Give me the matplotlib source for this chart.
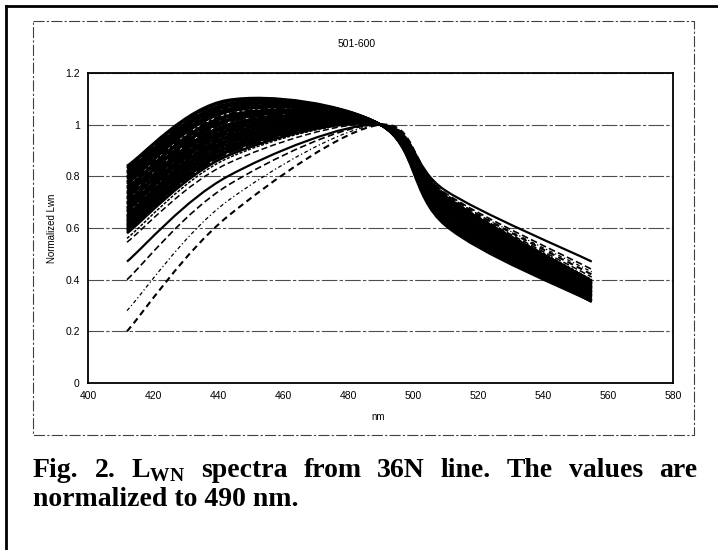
import matplotlib
matplotlib.use('Agg')
import matplotlib.pyplot as plt
from matplotlib.path import Path
from matplotlib.patches import PathPatch
from matplotlib.lines import Line2D

# SeaWiFS bands, every spectrum is normalized to 490 nm
wavelengths = [412, 443, 490, 510, 555]

# the dense black band of spectra (one value per curve)
band_412 = [0.84, 0.835, 0.83, 0.82, 0.815, 0.81, 0.80, 0.795, 0.79, 0.78, 0.775,
            0.77, 0.76, 0.755, 0.75, 0.74, 0.735, 0.73, 0.72, 0.715, 0.71, 0.70,
            0.695, 0.69, 0.68, 0.675, 0.67, 0.665, 0.66, 0.65, 0.645, 0.64, 0.635,
            0.63, 0.625, 0.62, 0.615, 0.61, 0.605, 0.60, 0.595, 0.59, 0.585, 0.58]
band_443 = [1.095, 1.09, 1.09, 1.08, 1.08, 1.075, 1.07, 1.065, 1.06, 1.055, 1.05,
            1.05, 1.04, 1.035, 1.03, 1.025, 1.02, 1.015, 1.01, 1.0, 1.0, 0.995,
            0.99, 0.985, 0.98, 0.975, 0.97, 0.965, 0.96, 0.955, 0.95, 0.945, 0.94,
            0.935, 0.93, 0.925, 0.92, 0.915, 0.91, 0.905, 0.90, 0.895, 0.89, 0.88]
band_510 = [0.61, 0.62, 0.62, 0.625, 0.63, 0.63, 0.635, 0.64, 0.64, 0.645, 0.65,
            0.65, 0.655, 0.66, 0.66, 0.665, 0.665, 0.67, 0.67, 0.675, 0.675, 0.68,
            0.68, 0.685, 0.685, 0.69, 0.69, 0.69, 0.695, 0.695, 0.70, 0.70, 0.70,
            0.705, 0.705, 0.71, 0.71, 0.71, 0.715, 0.715, 0.715, 0.72, 0.72, 0.72]
band_555 = [0.315, 0.315, 0.32, 0.32, 0.325, 0.325, 0.33, 0.33, 0.335, 0.335, 0.34,
            0.34, 0.34, 0.345, 0.345, 0.35, 0.35, 0.35, 0.355, 0.355, 0.36, 0.36,
            0.36, 0.365, 0.365, 0.365, 0.37, 0.37, 0.37, 0.375, 0.375, 0.375, 0.38,
            0.38, 0.38, 0.385, 0.385, 0.385, 0.39, 0.39, 0.39, 0.395, 0.395, 0.395]

# the few spectra that stand apart from the band
sep_412 = [0.47, 0.40, 0.28, 0.20, 0.545, 0.56]
sep_443 = [0.80, 0.765, 0.705, 0.645, 0.85, 0.87]
sep_510 = [0.745, 0.735, 0.73, 0.73, 0.725, 0.725]
sep_555 = [0.47, 0.44, 0.43, 0.42, 0.41, 0.40]
norm_490 = 1.0

x_ticks = [400, 420, 440, 460, 480, 500, 520, 540, 560, 580]
y_ticks = [0, 0.2, 0.4, 0.6, 0.8, 1.0, 1.2]
y_tick_labels = ['0', '0.2', '0.4', '0.6', '0.8', '1', '1.2']


def smooth_path(xs, ys):
    # excel style smoothed line: catmull-rom as cubic bezier pieces
    pts = list(zip(xs, ys))
    verts = [pts[0]]
    codes = [Path.MOVETO]
    n = len(pts)
    for i in range(n - 1):
        p0 = pts[i - 1] if i > 0 else pts[i]
        p1 = pts[i]
        p2 = pts[i + 1]
        p3 = pts[i + 2] if i + 2 < n else pts[i + 1]
        c1 = (p1[0] + (p2[0] - p0[0]) / 6, p1[1] + (p2[1] - p0[1]) / 6)
        c2 = (p2[0] - (p3[0] - p1[0]) / 6, p2[1] - (p3[1] - p1[1]) / 6)
        verts += [c1, c2, p2]
        codes += [Path.CURVE4] * 3
    return Path(verts, codes)


fig = plt.figure(figsize=(7.18, 5.5), dpi=100)
ax = fig.add_axes([88 / 718, 1 - 383 / 550, (673 - 88) / 718, (383 - 73) / 550])

band_styles = ['-', '-', (0, (6, 1)), '-', (0, (3, 1, 1, 1)), '-', '-', (0, (8, 1, 2, 1))]
for i in range(len(band_412)):
    ys = [band_412[i], band_443[i], norm_490, band_510[i], band_555[i]]
    ax.add_patch(PathPatch(smooth_path(wavelengths, ys), fill=False, color='black',
                           lw=1.9, linestyle=band_styles[i % len(band_styles)],
                           zorder=3))

sep_styles = ['-', (0, (4, 2)), (0, (3, 2, 1, 2)), (0, (3, 2)), (0, (4, 2)), (0, (2, 1))]
sep_widths = [1.6, 1.2, 0.9, 1.5, 1.1, 1.1]
for i in range(len(sep_412)):
    ys = [sep_412[i], sep_443[i], norm_490, sep_510[i], sep_555[i]]
    ax.add_patch(PathPatch(smooth_path(wavelengths, ys), fill=False, color='black',
                           lw=sep_widths[i], linestyle=sep_styles[i], zorder=3))

ax.set_xlim(400, 580)
ax.set_ylim(0, 1.2)
ax.set_xticks(x_ticks)
ax.set_yticks(y_ticks)
ax.set_yticklabels(y_tick_labels)
ax.tick_params(length=0, labelsize=7.5, pad=6)
for lab in ax.get_xticklabels() + ax.get_yticklabels():
    lab.set_family('Liberation Sans')
ax.yaxis.grid(True, color='0.3', lw=0.8, linestyle=(0, (14, 2, 3, 2)))
ax.set_axisbelow(True)
for s in ax.spines.values():
    s.set_linewidth(1.3)
    s.set_color('black')

fig.text(357 / 718, 1 - 44 / 550, '501-600', ha='center', va='center',
         fontsize=7.5, family='Liberation Sans')
fig.text(378 / 718, 1 - 417 / 550, 'nm', ha='center', va='center',
         fontsize=7, family='Liberation Sans')
fig.text(52 / 718, 1 - 228 / 550, 'Normalized Lwn', ha='center', va='center',
         rotation=90, fontsize=7, family='Liberation Sans')

# outer page border (left and top) and inner dashed chart box
fig.add_artist(Line2D([6 / 718, 6 / 718], [0, 1 - 6 / 550], color='black', lw=2,
                      transform=fig.transFigure))
fig.add_artist(Line2D([6 / 718, 1], [1 - 6 / 550, 1 - 6 / 550], color='black', lw=2,
                      transform=fig.transFigure))
bx = [33 / 718, 694 / 718, 694 / 718, 33 / 718, 33 / 718]
by = [1 - 21 / 550, 1 - 21 / 550, 1 - 435 / 550, 1 - 435 / 550, 1 - 21 / 550]
fig.add_artist(Line2D(bx, by, color='0.25', lw=0.8, linestyle=(0, (10, 2, 2, 2)),
                      transform=fig.transFigure))

# caption, first line justified between the box edges
plt.rcParams['mathtext.fontset'] = 'custom'
plt.rcParams['mathtext.rm'] = 'Liberation Serif:bold'
plt.rcParams['mathtext.bf'] = 'Liberation Serif:bold'
cap_words = ['Fig.', '2.', r'L$_{\mathrm{WN}}$', 'spectra', 'from', '36N', 'line.',
             'The', 'values', 'are']
cap_font = dict(fontsize=20, family='Liberation Serif', weight='bold')
fig.canvas.draw()
renderer = fig.canvas.get_renderer()
texts = [fig.text(0, 1 - 477 / 550, w, va='baseline', ha='left', **cap_font)
         for w in cap_words]
widths = [t.get_window_extent(renderer).width for t in texts]
left, right = 33.0, 697.0
gap = (right - left - sum(widths)) / (len(cap_words) - 1)
xpos = left
for t, w in zip(texts, widths):
    t.set_x(xpos / 718)
    xpos += w + gap
fig.text(33 / 718, 1 - 506 / 550, 'normalized to 490 nm.', va='baseline', ha='left',
         **cap_font)

fig.savefig('out.png', dpi=100)
